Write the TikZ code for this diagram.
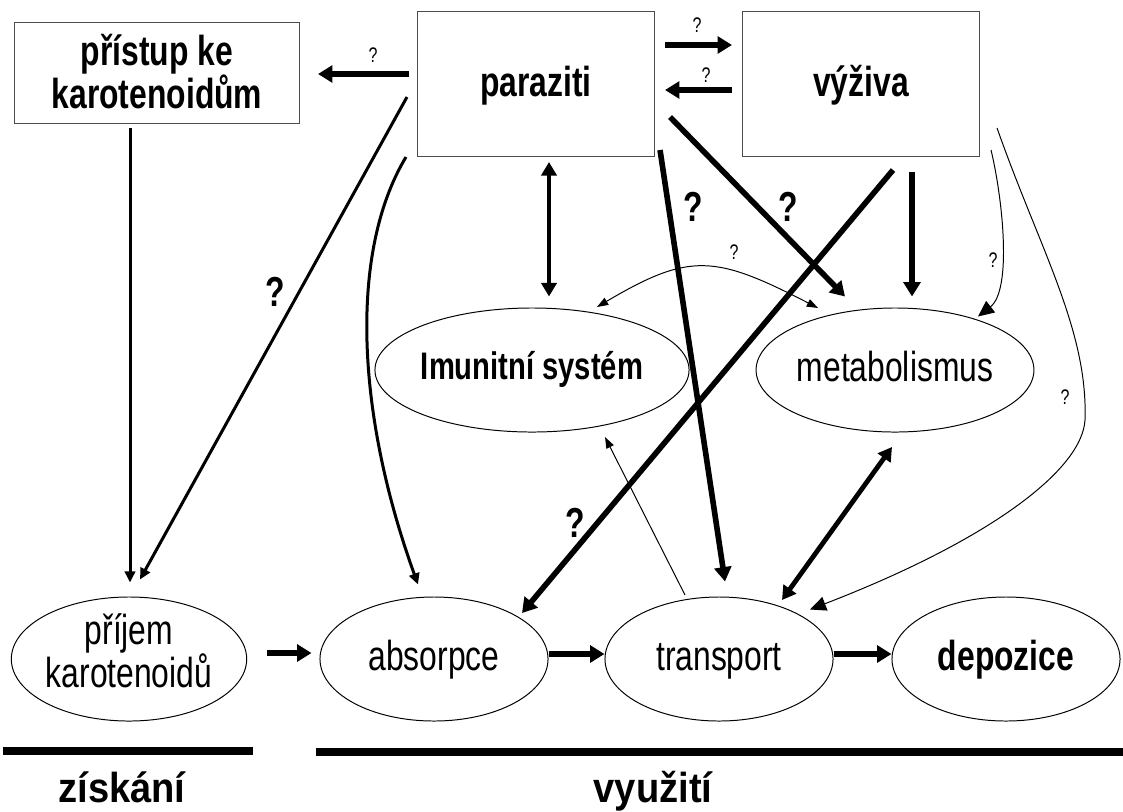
\documentclass[tikz,border=0pt]{standalone}
\usepackage{fontspec}
\setmainfont{Liberation Sans}[FakeStretch=0.76]
\newfontfamily\partfont{Liberation Sans}[FakeStretch=0.91]
\usetikzlibrary{shapes.geometric,arrows.meta,calc}
\tikzset{%
    box/.style={draw=black!70, line width=0.7pt, rectangle, inner sep=0pt,
        minimum width=5.925cm, minimum height=3.625cm, align=center,
        text height=18pt, text depth=0pt,
        font=\fontsize{29.8}{27}\selectfont\bfseries},
    oval/.style={draw, line width=0.7pt, ellipse, inner sep=0pt,
        minimum width=5.7cm, minimum height=3.1cm, align=center,
        text height=16pt, text depth=0pt,
        font=\fontsize{29.8}{30.5}\selectfont},
    fatarr/.style={line width=0.14cm, -{Triangle[length=0.36cm,width=0.42cm]}},
    fatboth/.style={line width=0.12cm, {Triangle[length=0.34cm,width=0.38cm]}-{Triangle[length=0.34cm,width=0.38cm]}},
    medarr/.style={line width=0.075cm, -{Triangle[length=0.28cm,width=0.26cm]}},
    hairarr/.style={line width=0.7pt, -{Triangle[length=0.28cm,width=0.2cm]}},
    hairboth/.style={line width=0.7pt, {Triangle[length=0.28cm,width=0.2cm]}-{Triangle[length=0.28cm,width=0.2cm]}},
    hairbig/.style={line width=0.7pt, -{Triangle[length=0.4cm,width=0.36cm]}},
    qbig/.style={inner sep=0pt, font=\fontsize{29.8}{30}\selectfont\bfseries},
    qsmall/.style={inner sep=0pt, font=\fontsize{15}{15}\selectfont},
    part/.style={inner sep=0pt, font=\partfont\fontsize{29.8}{30}\selectfont\bfseries}
}
\begin{document}
\begin{tikzpicture}[x=0.025cm, y=-0.025cm]
    \useasboundingbox (0,0) rectangle (1123,811);
    \node[box, minimum width=7.125cm, minimum height=2.525cm, text height=51pt] (pristup) at (157,73) {přístup ke\\karotenoidům};
    \node[box] (paraziti) at (536,84) {paraziti};
    \node[box] (vyziva) at (861,84) {výživa};
    \node[oval, minimum width=6.6cm, text height=13pt, font=\fontsize{27.3}{28}\selectfont\bfseries] (imun) at (532,370) {Imunitní systém};
    \node[oval, minimum width=5.65cm, text height=17pt] (metab) at (895,370) {metabolismus};
    \node[oval, text height=41pt] (prijem) at (129,659) {příjem\\karotenoidů};
    \node[oval] (absorpce) at (434,659) {absorpce};
    \node[oval] (transport) at (719,659) {transport};
    \node[oval, font=\fontsize{29.8}{30.5}\selectfont\bfseries] (depozice) at (1006,659) {depozice};

    \draw[fatarr] ($(paraziti.west)+(-8,-10)$) -- ($(pristup.east)+(18,1)$);
    \node[qsmall] (q1) at (373,55) {?};
    \draw[fatarr] ($(paraziti.east)+(10,-39)$) -- ($(vyziva.west)+(-10,-39)$);
    \node[qsmall] (q2) at (697,25) {?};
    \draw[fatarr] ($(vyziva.west)+(-10,6)$) -- ($(paraziti.east)+(10,6)$);
    \node[qsmall] (q3) at (706,75) {?};

    \draw[medarr] ($(pristup.south)+(-27,4)$) -- ($(prijem.north)+(1,-14)$);
    \draw[medarr] ($(paraziti.west)+(-10,13)$) -- ($(prijem.north)+(11,-17)$);
    \node[qbig] (q4) at (275,292) {?};
    \draw[medarr] ($(paraziti.south west)+(-11,0)$) .. controls (350,250) and (355,410) .. ($(absorpce.north)+(-16,-12)$);
    \draw[fatboth, line width=0.1cm] ($(paraziti.south)+(13,5)$) -- ($(imun.north)+(17,-11)$);
    \draw[fatarr] ($(paraziti.south east)+(5,-7)$) -- ($(transport.north)+(6,-15)$);
    \node[qbig] (q5) at (693,207) {?};
    \draw[fatarr] ($(paraziti.east)+(15,33)$) -- ($(metab.north)+(-50,-11)$);
    \node[qbig] (q6) at (788,207) {?};

    \draw[fatarr] ($(vyziva.south)+(32,13)$) -- ($(absorpce.center)+(88,-46)$);
    \node[qbig] (q7) at (575,523) {?};
    \draw[fatarr] ($(vyziva.south)+(51,15)$) -- ($(metab.north)+(17,-11)$);
    \draw[hairbig] ($(vyziva.south east)+(11,-7)$) .. controls (1003,200) and (1012,290) .. ($(metab.north)+(83,9)$);
    \node[qsmall] (q8) at (993,260) {?};
    \draw[hairbig] ($(vyziva.east)+(17,44)$) .. controls (1040,250) and (1088,330) .. (1085,420)
        .. controls (1082,470) and (990,540) .. ($(transport.north)+(91,13)$);
    \node[qsmall] (q9) at (1065,397) {?};

    \draw[hairboth] ($(imun.center)+(65,-63)$) .. controls (690,252) and (715,255) .. ($(metab.center)+(-77,-62)$);
    \node[qsmall] (q10) at (734,252) {?};
    \draw[hairarr] ($(transport.center)+(-34,-64)$) -- ($(imun.center)+(73,67)$);
    \draw[fatboth] ($(metab.center)+(-3,77)$) -- ($(transport.center)+(63,-59)$);

    \draw[fatarr] ($(prijem.east)+(20,-6)$) -- ($(absorpce.west)+(-8,-6)$);
    \foreach \a/\b in {absorpce/transport,transport/depozice}
    {
    \draw[fatarr] ($(\a.east)+(0,-5)$) -- ($(\b.west)+(0,-5)$);
    }

    \draw[line width=0.2cm] (3,751) -- (253,751);
    \draw[line width=0.22cm] (316,752) -- (1123,752);
    \node[part, anchor=base] (ziskani) at (122,802) {získání};
    \node[part, anchor=base] (vyuziti) at (653,802) {využití};
\end{tikzpicture}
\end{document}
